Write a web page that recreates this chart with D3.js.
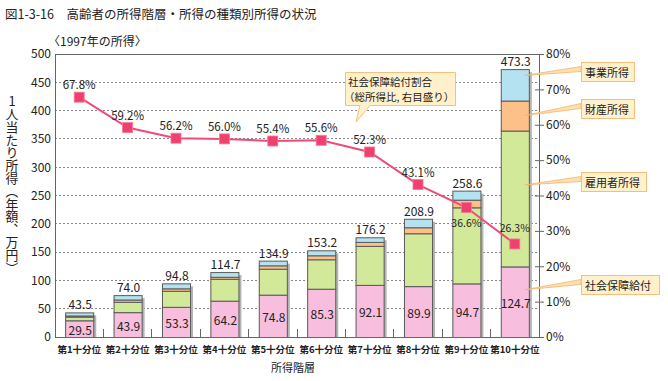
<!DOCTYPE html>
<html><head><meta charset="utf-8">
<script src="https://cdn.jsdelivr.net/npm/d3@7"></script>
<style>
body{margin:0;background:#fff}
svg{display:block}
text{font-family:"Noto Sans CJK JP","Noto Sans",sans-serif;fill:#222}
</style>
</head><body>
<svg id="c" width="668" height="381"></svg>
<script>
const categories = ["第1十分位","第2十分位","第3十分位","第4十分位","第5十分位","第6十分位","第7十分位","第8十分位","第9十分位","第10十分位"];
const socialSecurity = [29.5,43.9,53.3,64.2,74.8,85.3,92.1,89.9,94.7,124.7];
const employment = [6.5,18.3,28.4,38.7,45.9,52.0,68.9,93.4,134.4,240.0];
const property = [2.0,4.0,4.3,3.5,5.9,7.1,7.0,10.6,13.5,53.0];
const business = [5.5,7.8,8.8,8.3,8.3,8.8,8.2,15.0,16.0,55.6];
const totals = [43.5,74.0,94.8,114.7,134.9,153.2,176.2,208.9,258.6,473.3];
const ssShare = [67.8,59.2,56.2,56.0,55.4,55.6,52.3,43.1,36.6,26.3];
const leftTicks = [0,50,100,150,200,250,300,350,400,450,500];
const rightTicks = [0,10,20,30,40,50,60,70,80];
const seriesNames = ["社会保障給付","雇用者所得","財産所得","事業所得"];
const seriesColors = ["#f8bedd","#d2e99a","#fdc088","#b4e2f0"];

const svg = d3.select("#c");
const L = 55, R = 539, T = 54, B = 337;
const x = d3.scaleBand().domain(categories).range([L, R]).paddingInner(0.42).paddingOuter(0.21);
const y = d3.scaleLinear().domain([0, 500]).range([B, T]);
const yR = d3.scaleLinear().domain([0, 80]).range([B, T]);

// title
svg.append("text").attr("x", 5).attr("y", 19).attr("font-size", 12.5).text("図1-3-16　高齢者の所得階層・所得の種類別所得の状況");
svg.append("text").attr("x", 48).attr("y", 46).attr("font-size", 12).text("〈1997年の所得〉");

// grid
svg.append("g").selectAll("line").data(leftTicks.filter(d => d > 0 && d < 500)).join("line")
  .attr("x1", L).attr("x2", R).attr("y1", d => y(d)).attr("y2", d => y(d))
  .attr("stroke", "#888").attr("stroke-dasharray", "2,2").attr("stroke-width", 1).attr("shape-rendering", "crispEdges");

// stacked data
const rows = categories.map((c, i) => ({cat: c, v: [socialSecurity[i], employment[i], property[i], business[i]]}));
const stacks = rows.map(r => { let acc = 0; return r.v.map((v, k) => { const s = {cat: r.cat, k, y0: acc, y1: acc + v}; acc += v; return s; }); });

// shadows
svg.append("g").selectAll("rect").data(categories).join("rect")
  .attr("x", d => x(d) + x.bandwidth()).attr("width", 3)
  .attr("y", (d, i) => y(totals[i]) + 3).attr("height", (d, i) => B - y(totals[i]) - 3)
  .attr("fill", "#b4b4b4");

// bars
svg.append("g").selectAll("rect").data(stacks.flat()).join("rect")
  .attr("x", d => x(d.cat) + 0.5).attr("width", x.bandwidth())
  .attr("y", d => y(d.y1) + 0.5).attr("height", d => y(d.y0) - y(d.y1))
  .attr("fill", d => seriesColors[d.k]).attr("stroke", "#5a5a5a").attr("stroke-width", 1);

// frame
const fr = svg.append("g").attr("stroke", "#666").attr("stroke-width", 1).attr("shape-rendering", "crispEdges");
fr.append("line").attr("x1", L).attr("x2", R).attr("y1", T).attr("y2", T);
fr.append("line").attr("x1", L).attr("x2", L).attr("y1", T).attr("y2", B);
fr.append("line").attr("x1", R).attr("x2", R).attr("y1", T).attr("y2", B);
fr.append("line").attr("x1", L).attr("x2", R).attr("y1", B).attr("y2", B);

// bottom inner ticks at band boundaries
const bounds = categories.slice(1).map(c => x(c) - x.step() * x.paddingInner() / 2);
fr.selectAll(".bt").data(bounds).join("line").attr("class", "bt")
  .attr("x1", d => d).attr("x2", d => d).attr("y1", B).attr("y2", B - 8);

// left axis
const la = svg.append("g").attr("transform", `translate(${L},0)`)
  .call(d3.axisLeft(y).tickValues(leftTicks).tickSize(0).tickPadding(4));
la.select(".domain").remove();
la.selectAll("text").attr("font-size", 12).attr("fill", "#222").attr("font-family", '"Noto Sans CJK JP",sans-serif');

// right axis
const ra = svg.append("g").attr("transform", `translate(${R},0)`)
  .call(d3.axisRight(yR).tickValues(rightTicks).tickSize(5).tickPadding(2).tickFormat(d => d + "%"));
ra.select(".domain").remove();
ra.selectAll(".tick line").attr("x1", -4).attr("stroke", "#666");
ra.selectAll("text").attr("font-size", 12).attr("fill", "#222").attr("font-family", '"Noto Sans CJK JP",sans-serif');

// bottom axis labels
const ba = svg.append("g").attr("transform", `translate(0,${B})`)
  .call(d3.axisBottom(x).tickSize(0).tickPadding(9));
ba.select(".domain").remove();
ba.selectAll("text").attr("font-size", 9.5).attr("font-weight", "bold").attr("fill", "#222").attr("font-family", '"Noto Sans CJK JP",sans-serif');

svg.append("text").attr("x", 293).attr("y", 372).attr("text-anchor", "middle").attr("font-size", 11).text("所得階層");

// y title vertical
svg.append("text").attr("x", 12).attr("y", 95)
  .attr("font-size", 12.8)
  .style("writing-mode", "vertical-rl").style("text-orientation", "upright")
  .text("1人当たり所得（年額、万円）");

// total labels
svg.append("g").selectAll("text").data(categories).join("text")
  .attr("x", d => x(d) + x.bandwidth() / 2 + 1).attr("y", (d, i) => y(totals[i]) - 3)
  .attr("text-anchor", "middle").attr("font-size", 12)
  .text((d, i) => totals[i].toFixed(1));

// social security labels
svg.append("g").selectAll("text").data(categories).join("text")
  .attr("x", d => x(d) + x.bandwidth() / 2 + 1).attr("y", (d, i) => (y(socialSecurity[i]) + B) / 2 + 1)
  .attr("dominant-baseline", "central")
  .attr("text-anchor", "middle").attr("font-size", 12)
  .text((d, i) => socialSecurity[i].toFixed(1));

// line
const cx = d => x(d) + x.bandwidth() / 2;
const line = d3.line().x((d, i) => cx(categories[i])).y(d => yR(d));
svg.append("path").datum(ssShare).attr("d", line).attr("fill", "none").attr("stroke", "#f04a78").attr("stroke-width", 2);
svg.append("g").selectAll("rect").data(ssShare).join("rect")
  .attr("x", (d, i) => cx(categories[i]) - 5).attr("y", d => yR(d) - 5)
  .attr("width", 10).attr("height", 10).attr("fill", "#f0406e").attr("stroke", "#f7779a").attr("stroke-width", 0.8);

// percent labels
svg.append("g").selectAll("text").data(ssShare).join("text")
  .attr("x", (d, i) => cx(categories[i]))
  .attr("y", (d, i) => i === 8 ? yR(d) + 19 : (i === 9 ? yR(d) - 12 : yR(d) - 8))
  .attr("text-anchor", "middle")
  .attr("font-size", (d, i) => i >= 8 ? 10.5 : 11.5)
  .text(d => d.toFixed(1) + "%");

// callout box
const cb = svg.append("g");
cb.append("path")
  .attr("d", "M345.5,72.5 H455.5 V105.5 H370 L356,122 L360,105.5 H345.5 Z")
  .attr("fill", "#fff1cc").attr("stroke", "#f6bf7e").attr("stroke-width", 1);
cb.append("text").attr("x", 348).attr("y", 85.5).attr("font-size", 10.5).text("社会保障給付割合");
cb.append("text").attr("x", 344).attr("y", 101).attr("font-size", 10.5).text("（総所得比, 右目盛り）");

// legend callouts
const last = stacks[stacks.length - 1];
const legendLayout = [
  {k: 3, frac: 0.8, bx: 581, by: 62, bw: 53},
  {k: 2, frac: 0.5, bx: 581, by: 99, bw: 53},
  {k: 1, frac: 0.6, bx: 581, by: 172, bw: 65},
  {k: 0, frac: 0.67, bx: 581, by: 275, bw: 78}
];
const lg = svg.append("g");
const lastX = x(categories[9]) + x.bandwidth() - 4;
legendLayout.forEach(l => {
  const s = last[l.k];
  const py = y(s.y0 + l.frac * (s.y1 - s.y0));
  const ey = l.by + 7;
  lg.append("path").attr("d", `M${lastX},${py} L${l.bx},${ey - 2.5} L${l.bx},${ey + 2.5} Z`)
    .attr("fill", "#fde0b0").attr("stroke", "#f5b468").attr("stroke-width", 0.8);
  lg.append("rect").attr("x", l.bx + 0.5).attr("y", l.by + 0.5).attr("width", l.bw).attr("height", 19)
    .attr("fill", "#fff1cc").attr("stroke", "#f6bf7e");
  lg.append("text").attr("x", l.bx + 4).attr("y", l.by + 14.5).attr("font-size", 11).text(seriesNames[l.k]);
});
</script>
</body></html>
